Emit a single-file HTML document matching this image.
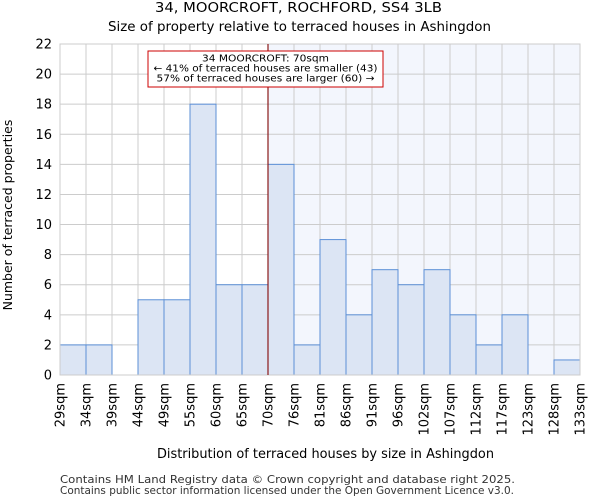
<!DOCTYPE html>
<html><head><meta charset="utf-8"><style>
body{margin:0;background:#fff;font-family:"DejaVu Sans","Liberation Sans",sans-serif}
</style></head><body>
<svg id="c" width="600" height="500" xmlns="http://www.w3.org/2000/svg" font-family="DejaVu Sans, Liberation Sans, sans-serif">
<text x="155" y="12" font-size="13" textLength="287" lengthAdjust="spacingAndGlyphs">34, MOORCROFT, ROCHFORD, SS4 3LB</text>
<text x="108" y="31" font-size="13" textLength="383" lengthAdjust="spacingAndGlyphs">Size of property relative to terraced houses in Ashingdon</text>
<text x="157" y="458" font-size="13" textLength="337" lengthAdjust="spacingAndGlyphs">Distribution of terraced houses by size in Ashingdon</text>
<text transform="translate(12,215) rotate(-90)" font-size="12.5" text-anchor="middle">Number of terraced properties</text>
<text x="60" y="483" font-size="10.5" fill="#333" textLength="455" lengthAdjust="spacingAndGlyphs">Contains HM Land Registry data © Crown copyright and database right 2025.</text>
<text x="60" y="494" font-size="10.5" fill="#333" textLength="454" lengthAdjust="spacingAndGlyphs">Contains public sector information licensed under the Open Government Licence v3.0.</text>
<g id="plot"></g>
</svg>
<script>
const labels=["29sqm","34sqm","39sqm","44sqm","49sqm","55sqm","60sqm","65sqm","70sqm","76sqm","81sqm","86sqm","91sqm","96sqm","102sqm","107sqm","112sqm","117sqm","123sqm","128sqm","133sqm"];
const counts=[2,2,0,5,5,18,6,6,14,2,9,4,7,6,7,4,2,4,0,1];
const yTicks=[0,2,4,6,8,10,12,14,16,18,20,22];
const markerBin=8;
const L=60,R=580,T=44,B=375,yMax=22;
const NS="http://www.w3.org/2000/svg";
const g=document.getElementById('plot');
const bw=(R-L)/counts.length;
const x=i=>L+i*bw, y=v=>B-(v/yMax)*(B-T);
function el(t,a){const e=document.createElementNS(NS,t);for(const k in a)e.setAttribute(k,a[k]);g.appendChild(e);return e;}
let hl=el('rect',{x:x(markerBin),y:T,width:R-x(markerBin),height:B-T,fill:'#f3f6fd'});


yTicks.forEach(v=>{
 let l=el('line',{x1:L,x2:R,y1:y(v),y2:y(v),stroke:'#cccccc','stroke-width':1});
 
 
 let t=el('text',{x:L-8,y:y(v)+4.5,'font-size':13,'text-anchor':'end'});t.textContent=v;
 
 
});
labels.forEach((s,i)=>{
 let l=el('line',{x1:x(i),x2:x(i),y1:T,y2:B,stroke:'#cccccc','stroke-width':1});
 
 
 let t=el('text',{transform:`translate(${x(i)+4.5},${B+8}) rotate(-90)`,'font-size':13,'text-anchor':'end'});t.textContent=s;
 
 
});
counts.forEach((v,i)=>{
 if(v<=0)return;
 let r=el('rect',{x:x(i),y:y(v),width:bw,height:B-y(v),fill:'#dce5f4',stroke:'#5b8fd6','stroke-width':1});
 
 
});
let fr=el('rect',{x:L,y:T,width:R-L,height:B-T,fill:'none',stroke:'#cccccc'});


let ml=el('line',{x1:x(markerBin),x2:x(markerBin),y1:T,y2:B,stroke:'#8b1a1a','stroke-width':1.2});


let box=el('rect',{x:148,y:51,width:235,height:36,fill:'#fff',stroke:'#cc0000','stroke-width':1});


[["34 MOORCROFT: 70sqm",127],["← 41% of terraced houses are smaller (43)",224],["57% of terraced houses are larger (60) →",218]].forEach((s,i)=>{
 let t=el('text',{x:265.5,y:61.5+i*10,'font-size':10,'text-anchor':'middle',textLength:s[1],lengthAdjust:'spacingAndGlyphs'});t.textContent=s[0];
 
 
});
</script>
</body></html>
